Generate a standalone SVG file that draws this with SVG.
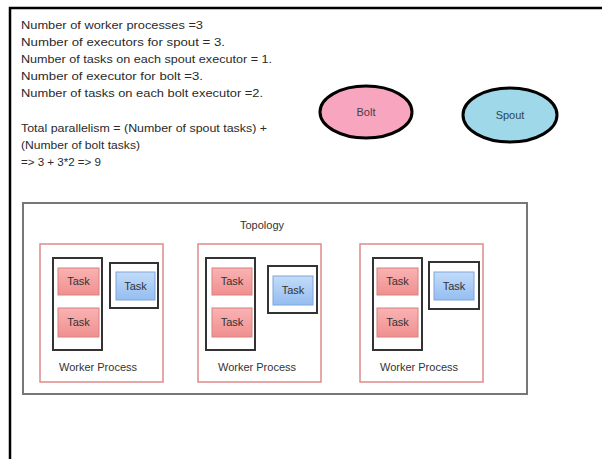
<svg xmlns="http://www.w3.org/2000/svg" width="602" height="459" viewBox="0 0 602 459">
<defs>
<linearGradient id="gRed" x1="0" y1="0" x2="0" y2="1"><stop offset="0" stop-color="#f9b3b3"/><stop offset="1" stop-color="#f08f8f"/></linearGradient>
<linearGradient id="gBlue" x1="0" y1="0" x2="0" y2="1"><stop offset="0" stop-color="#c3dcfa"/><stop offset="1" stop-color="#94bdf0"/></linearGradient>
</defs>
<style>
.t{font-family:"Liberation Sans",Arial,sans-serif;font-size:11.5px;fill:#2a2a2a}
.lbl{font-family:"Liberation Sans",Arial,sans-serif;font-size:11px;fill:#333;text-anchor:middle}
.worker{fill:#fff;stroke:#e08a8a;stroke-width:1.5}
.exec{fill:#fff;stroke:#333;stroke-width:2}
.red{fill:url(#gRed);stroke:#d98080;stroke-width:1}
.blue{fill:url(#gBlue);stroke:#7ea6dc;stroke-width:1}
</style>
<rect x="0" y="0" width="602" height="459" fill="#fff"/>
<path d="M10,459 V8 H602" fill="none" stroke="#000" stroke-width="2.5"/>
<g id="notes">
<text class="t" x="21" y="29" textLength="182" lengthAdjust="spacingAndGlyphs">Number of worker processes =3</text>
<text class="t" x="21" y="46" textLength="204" lengthAdjust="spacingAndGlyphs">Number of executors for spout = 3.</text>
<text class="t" x="21" y="63" textLength="251" lengthAdjust="spacingAndGlyphs">Number of tasks on each spout executor = 1.</text>
<text class="t" x="21" y="80" textLength="182" lengthAdjust="spacingAndGlyphs">Number of executor for bolt =3.</text>
<text class="t" x="21" y="97" textLength="242" lengthAdjust="spacingAndGlyphs">Number of tasks on each bolt executor =2.</text>
<text class="t" x="21" y="132" textLength="246" lengthAdjust="spacingAndGlyphs">Total parallelism = (Number of spout tasks) +</text>
<text class="t" x="21" y="149" textLength="119" lengthAdjust="spacingAndGlyphs">(Number of bolt tasks)</text>
<text class="t" x="21" y="166" textLength="80" lengthAdjust="spacingAndGlyphs">=&gt; 3 + 3*2 =&gt; 9</text>
</g>
<g id="bolt">
<ellipse cx="366" cy="112" rx="46" ry="26" fill="#f8a6bf" stroke="#000" stroke-width="3"/>
<text class="lbl" x="366" y="116" style="fill:#4a3a48">Bolt</text>
</g>
<g id="spout">
<ellipse cx="510" cy="115" rx="47" ry="27" fill="#9fd8e8" stroke="#000" stroke-width="3"/>
<text class="lbl" x="510" y="119" style="fill:#2f4650">Spout</text>
</g>
<g id="topology">
<rect x="23" y="203" width="504" height="191" fill="#fff" stroke="#777" stroke-width="2"/>
<text class="lbl" x="262" y="229">Topology</text>
</g>
<g id="worker1">
<rect class="worker" x="40" y="244" width="123" height="138"/>
<rect class="exec" x="53" y="258" width="49" height="92"/>
<rect class="red" x="58" y="268" width="41" height="27"/>
<text class="lbl" x="78.5" y="285">Task</text>
<rect class="red" x="58" y="308" width="41" height="29"/>
<text class="lbl" x="78.5" y="326">Task</text>
<rect class="exec" x="110" y="263" width="48" height="45"/>
<rect class="blue" x="116" y="272" width="39" height="28"/>
<text class="lbl" x="135.5" y="290">Task</text>
<text class="lbl" x="98" y="371">Worker Process</text>
</g>
<g id="worker2">
<rect class="worker" x="198" y="244" width="123" height="138"/>
<rect class="exec" x="206" y="258" width="49" height="92"/>
<rect class="red" x="212" y="268" width="40" height="27"/>
<text class="lbl" x="232" y="285">Task</text>
<rect class="red" x="212" y="308" width="40" height="29"/>
<text class="lbl" x="232" y="326">Task</text>
<rect class="exec" x="268" y="266" width="49" height="47"/>
<rect class="blue" x="273" y="276" width="40" height="29"/>
<text class="lbl" x="293" y="294">Task</text>
<text class="lbl" x="257" y="371">Worker Process</text>
</g>
<g id="worker3">
<rect class="worker" x="360" y="244" width="123" height="138"/>
<rect class="exec" x="373" y="258" width="49" height="92"/>
<rect class="red" x="377" y="268" width="41" height="27"/>
<text class="lbl" x="397.5" y="285">Task</text>
<rect class="red" x="377" y="308" width="41" height="29"/>
<text class="lbl" x="397.5" y="326">Task</text>
<rect class="exec" x="429" y="262" width="50" height="47"/>
<rect class="blue" x="434" y="272" width="40" height="28"/>
<text class="lbl" x="454" y="290">Task</text>
<text class="lbl" x="419" y="371">Worker Process</text>
</g>
<g id="connectors"/>
</svg>
